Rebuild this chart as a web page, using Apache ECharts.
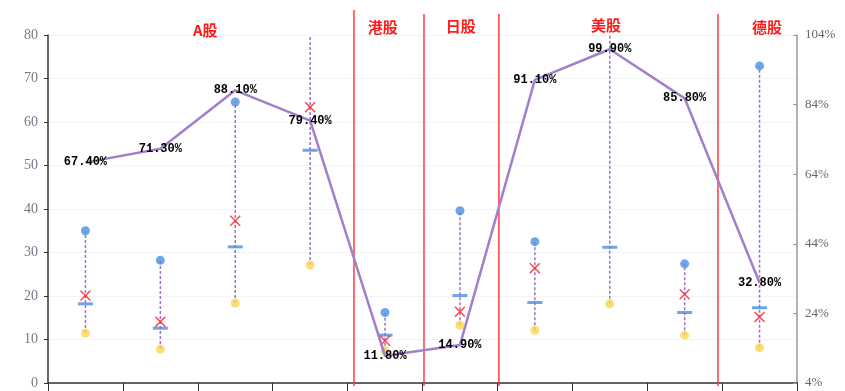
<!DOCTYPE html>
<html><head><meta charset="utf-8">
<script src="https://cdn.jsdelivr.net/npm/echarts@6/dist/echarts.min.js"></script>
<style>html,body{margin:0;padding:0;background:#fff}#c{width:845px;height:391px}</style>
</head><body><div id="c"></div>
<script>
var categories = ['沪深300','中证500','创业板指','科创50','恒生指数','日经225','标普500','纳斯达克','道琼斯工业','德国DAX'];
var maxValues = [35.0, 28.2, 64.6, 86.0, 16.2, 39.6, 32.5, 88.0, 27.4, 72.9];
var minValues = [11.5, 7.8, 18.4, 27.1, 7.4, 13.3, 12.1, 18.2, 11.0, 8.1];
var medianValues = [18.2, 12.6, 31.3, 53.5, 11.0, 20.1, 18.5, 31.2, 16.2, 17.3];
var currentValues = [20.1, 14.1, 37.3, 63.4, 9.7, 16.4, 26.4, 84.0, 20.4, 15.2];
var percentileValues = [67.4, 71.3, 88.1, 79.4, 11.8, 14.9, 91.1, 99.9, 85.8, 32.8];
var dividerPositions = [4.085, 5.02, 6.02, 8.945];
var sectionNames = ['A股', '港股', '日股', '美股', '德股'];
var sectionPositions = [2.1, 4.47, 5.51, 7.45, 9.6];
var sectionY = [30, 27, 26, 25, 27];
var leftTicks = {min: 0, max: 80, interval: 10};
var rightTicks = {min: 4, max: 104, interval: 20};

var chart = echarts.init(document.getElementById('c'));
var rangeData = categories.map(function (c, i) { return [i, minValues[i], maxValues[i]]; });
var xSymbol = 'path://M0,1L1,0L5,4L9,0L10,1L6,5L10,9L9,10L5,6L1,10L0,9L4,5Z';

var option = {
  animation: false,
  grid: {left: 48, right: 48, top: 35, bottom: 8, containLabel: false},
  xAxis: [{
    type: 'category', data: categories, boundaryGap: true,
    axisLine: {lineStyle: {color: '#333', width: 1.5}},
    axisTick: {show: true, interval: 0, length: 9, inside: false, lineStyle: {color: '#333', width: 1}},
    axisLabel: {show: false, interval: 0},
    splitLine: {show: false}
  }, {
    type: 'value', min: 0, max: 10, show: false
  }],
  yAxis: [{
    type: 'value', min: leftTicks.min, max: leftTicks.max, interval: leftTicks.interval,
    axisLine: {show: true, lineStyle: {color: '#333', width: 1.5}},
    axisTick: {show: true, length: 4, lineStyle: {color: '#333'}},
    axisLabel: {color: '#6f7a8a', fontFamily: 'Liberation Serif', fontSize: 14, margin: 10},
    splitLine: {show: true, lineStyle: {color: '#f4f4f4'}}
  }, {
    type: 'value', min: rightTicks.min, max: rightTicks.max, interval: rightTicks.interval,
    position: 'right',
    axisLine: {show: true, lineStyle: {color: '#999', width: 1.5}},
    axisTick: {show: true, inside: true, length: 4, lineStyle: {color: '#999'}},
    axisLabel: {color: '#666', fontFamily: 'Liberation Serif', fontSize: 13, margin: 8, formatter: '{value}%'},
    splitLine: {show: false}
  }],
  series: [{
    type: 'custom', xAxisIndex: 0, yAxisIndex: 0, data: rangeData, clip: true, z: 1,
    renderItem: function (params, api) {
      var p1 = api.coord([api.value(0), api.value(1)]);
      var p2 = api.coord([api.value(0), api.value(2)]);
      return {type: 'line', shape: {x1: p1[0], y1: p1[1], x2: p2[0], y2: p2[1]},
        style: {stroke: '#9a70d0', lineWidth: 1.5, lineDash: [3, 2]}};
    }
  }, {
    type: 'scatter', data: medianValues, symbol: 'rect', symbolSize: [15, 3], z: 3,
    itemStyle: {color: '#4a8fe0'}
  }, {
    type: 'scatter', data: currentValues, symbol: xSymbol, symbolSize: 11, z: 4,
    itemStyle: {color: '#ff2424'}
  }, {
    type: 'scatter', data: maxValues, symbol: 'circle', symbolSize: 9, z: 4,
    itemStyle: {color: '#4a90e2'}
  }, {
    type: 'scatter', data: minValues, symbol: 'circle', symbolSize: 9, z: 4,
    itemStyle: {color: '#ffd454'}
  }, {
    type: 'line', yAxisIndex: 1, data: percentileValues, symbol: 'circle', symbolSize: 1, showSymbol: true, z: 5,
    itemStyle: {color: 'rgba(0,0,0,0)'},
    lineStyle: {color: '#a27fcb', width: 2.5},
    label: {show: true, position: 'inside', formatter: function (p) { return p.value.toFixed(2) + '%'; },
      color: '#000', fontWeight: 'bold', fontFamily: 'Liberation Mono', fontSize: 12},
    labelLayout: {hideOverlap: false}
  }]
};
chart.setOption(option);

var graphics = [];
dividerPositions.forEach(function (v, i) {
  var x = chart.convertToPixel({xAxisIndex: 1}, v);
  graphics.push({type: 'line', shape: {x1: x, y1: i === 0 ? 10 : 14, x2: x, y2: 386},
    style: {stroke: '#ff3b3b', lineWidth: 1.5}, z: 2});
});
sectionNames.forEach(function (n, i) {
  var x = chart.convertToPixel({xAxisIndex: 1}, sectionPositions[i]);
  graphics.push({type: 'text', x: x, y: sectionY[i],
    style: {text: n, fill: '#ff1a1a', font: 'bold 15px "Noto Sans CJK SC"', align: 'center', verticalAlign: 'middle'}, z: 10});
});
chart.setOption({graphic: graphics});
</script></body></html>
